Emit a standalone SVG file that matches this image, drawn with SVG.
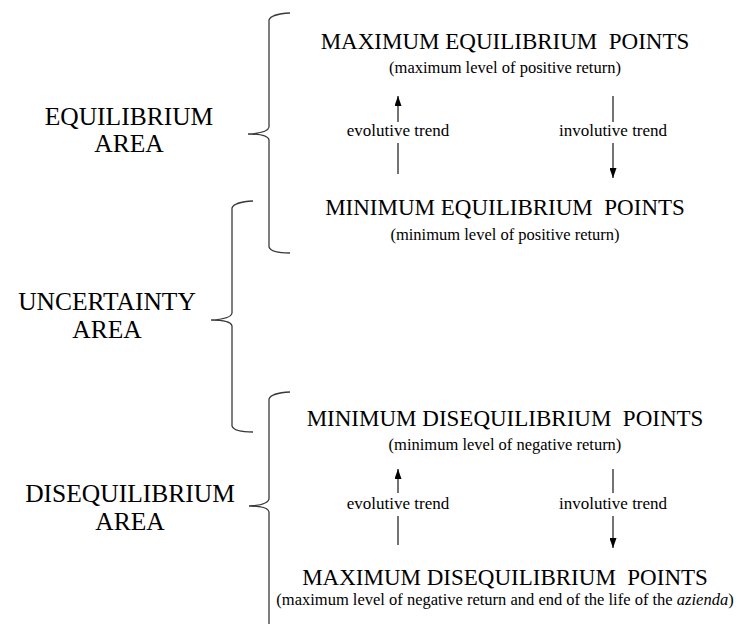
<svg xmlns="http://www.w3.org/2000/svg" width="739" height="624" viewBox="0 0 739 624">
<defs>
<style>
text{font-family:"Liberation Serif","Times New Roman",serif;fill:#000;text-anchor:middle}
.t{font-size:23px}
.s{font-size:16.5px}
.tr{font-size:17px}
.a{font-size:25.5px}
.br{fill:none;stroke:#3a3a3a;stroke-width:1.3}
.ln{stroke:#000;stroke-width:1.1;fill:none}
</style>
<marker id="ah" viewBox="0 0 10 7" refX="10" refY="3.5" markerWidth="10" markerHeight="7" markerUnits="userSpaceOnUse" orient="auto">
<path d="M0,0 L10,3.5 L0,7 Z" fill="#000"/>
</marker>
</defs>
<rect width="739" height="624" fill="#fff"/>

<g id="brace-equilibrium">
<path class="br" d="M290,13 Q271,14 269,20 L269,127 Q268,133 248,134 Q268,134 269,140 L269,247 Q271,253 290,253"/>
<text class="a" x="129" y="125">EQUILIBRIUM</text>
<text class="a" x="129" y="152">AREA</text>
</g>

<g id="brace-uncertainty">
<path class="br" d="M253,201 Q234,202 232,208 L232,313 Q231,319 211,320 Q231,320 232,326 L232,426 Q234,432 253,432"/>
<text class="a" x="107" y="310">UNCERTAINTY</text>
<text class="a" x="107" y="338">AREA</text>
</g>

<g id="brace-disequilibrium">
<path class="br" d="M290,392 Q271,393 269,399 L269,499 Q268,505 249,506 Q268,506 269,512 L269,624"/>
<text class="a" x="130" y="502">DISEQUILIBRIUM</text>
<text class="a" x="130" y="530">AREA</text>
</g>

<g id="max-equilibrium">
<text class="t" x="505" y="49" xml:space="preserve">MAXIMUM EQUILIBRIUM  POINTS</text>
<text class="s" x="505" y="73">(maximum level of positive return)</text>
</g>

<g id="min-equilibrium">
<text class="t" x="505" y="215" xml:space="preserve">MINIMUM EQUILIBRIUM  POINTS</text>
<text class="s" x="505" y="240">(minimum level of positive return)</text>
</g>

<g id="min-disequilibrium">
<text class="t" x="505" y="426" xml:space="preserve">MINIMUM DISEQUILIBRIUM  POINTS</text>
<text class="s" x="505" y="450">(minimum level of negative return)</text>
</g>

<g id="max-disequilibrium">
<text class="t" x="505" y="585" xml:space="preserve">MAXIMUM DISEQUILIBRIUM  POINTS</text>
<text class="s" x="505" y="605">(maximum level of negative return and end of the life of the <tspan font-style="italic">azienda</tspan>)</text>
</g>

<g id="connectors">
<line class="ln" x1="398" y1="122" x2="398" y2="96" marker-end="url(#ah)"/>
<line class="ln" x1="398" y1="143" x2="398" y2="174"/>
<text class="tr" x="398" y="136">evolutive trend</text>
<line class="ln" x1="613" y1="96" x2="613" y2="122"/>
<line class="ln" x1="613" y1="143" x2="613" y2="178" marker-end="url(#ah)"/>
<text class="tr" x="613" y="136">involutive trend</text>

<line class="ln" x1="398" y1="493" x2="398" y2="469" marker-end="url(#ah)"/>
<line class="ln" x1="398" y1="516" x2="398" y2="545"/>
<text class="tr" x="398" y="509">evolutive trend</text>
<line class="ln" x1="613" y1="469" x2="613" y2="493"/>
<line class="ln" x1="613" y1="516" x2="613" y2="548" marker-end="url(#ah)"/>
<text class="tr" x="613" y="509">involutive trend</text>
</g>
</svg>
